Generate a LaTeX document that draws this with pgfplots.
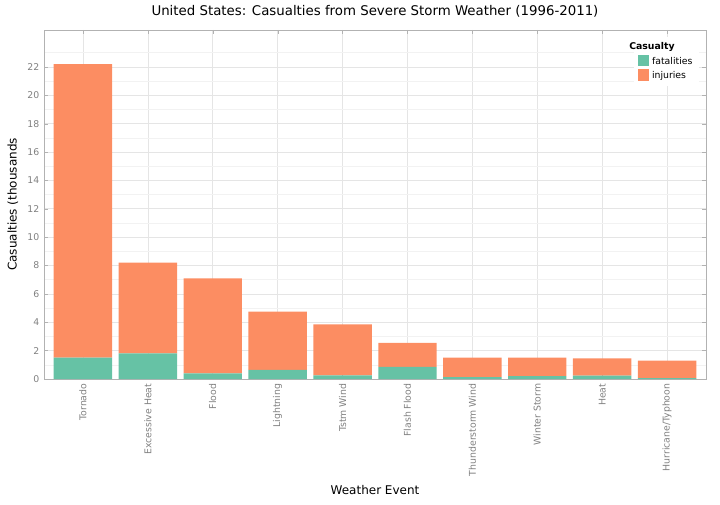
\documentclass[border=0pt]{standalone}
\usepackage{pgfplots}
\pgfplotsset{compat=1.18}
\usepackage{fontspec}
\setmainfont{DejaVu Sans}
\definecolor{fat}{HTML}{66C2A5}
\definecolor{inj}{HTML}{FC8D62}
\begin{document}
\begin{tikzpicture}
\useasboundingbox (-33pt,-93.75pt) rectangle (507pt,284.25pt);
\begin{axis}[at={(0,0)},anchor=south west,scale only axis,width=496.5pt,height=261.75pt,
ybar stacked, bar width=0.9,
xmin=-0.6,xmax=9.6,ymin=0,ymax=24.6,
xtick={0,...,9},
xticklabels={Tornado,Excessive Heat,Flood,Lightning,Tstm Wind,Flash Flood,Thunderstorm Wind,Winter Storm,Heat,Hurricane/Typhoon},
xticklabel style={rotate=90,anchor=east,font=\scriptsize,text=gray},
ytick={0,2,...,22},minor ytick={1,3,...,23},
yticklabel style={font=\scriptsize,text=gray},
/pgf/number format/assume math mode=true,
grid=both,major grid style={gray!20},minor grid style={gray!10},
axis line style={gray!60},tick style={gray!60},major tick length=3pt,minor tick length=0pt,
xlabel={Weather Event},ylabel={Casualties (thousands},
label style={font=\small},
title={United States: Casualties from Severe Storm Weather (1996-2011)},
title style={font=\normalsize},
legend style={at={(0.99,0.98)},anchor=north east,draw=none,font=\scriptsize,fill=white},
legend cell align=left,
legend image code/.code={\fill[#1] (0,-0.12cm) rectangle (0.3cm,0.18cm);},
]
\addlegendimage{empty legend}\addlegendentry{\hspace{-0.6cm}\textbf{Casualty}}
\addplot[fill=fat,draw=none] coordinates {(0,1.5)(1,1.8)(2,0.4)(3,0.65)(4,0.25)(5,0.85)(6,0.13)(7,0.2)(8,0.24)(9,0.06)};
\addlegendentry{fatalities}
\addplot[fill=inj,draw=none] coordinates {(0,20.7)(1,6.4)(2,6.7)(3,4.1)(4,3.6)(5,1.7)(6,1.37)(7,1.3)(8,1.21)(9,1.24)};
\addlegendentry{injuries}
\end{axis}
\end{tikzpicture}
\end{document}
